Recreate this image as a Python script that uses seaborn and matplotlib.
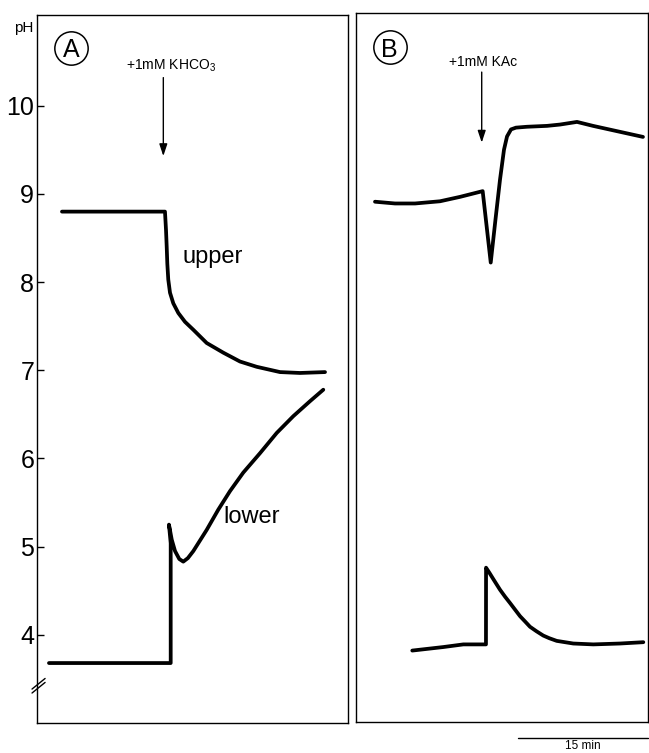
import matplotlib.pyplot as plt
import matplotlib.transforms as mtransforms
import seaborn as sns

# Panel A: +1mM KHCO3 (time in min, pH)
a_upper_t = [2.88, 14.76, 14.88, 14.96, 15.03, 15.14, 15.34, 15.72, 16.30, 17.07,
             18.03, 19.57, 21.49, 23.41, 25.34, 28.03, 30.33, 33.22]
a_upper_ph = [8.80, 8.80, 8.59, 8.40, 8.21, 8.03, 7.88, 7.76, 7.65, 7.55,
              7.46, 7.31, 7.20, 7.10, 7.04, 6.98, 6.97, 6.98]

a_lower_t = [1.38, 15.42, 15.42, 15.22, 15.54, 15.92, 16.41, 16.87, 17.4, 18.03, 18.8,
             19.57, 20.91, 22.26, 23.79, 25.72, 27.65, 29.56, 31.49, 33.02]
a_lower_ph = [3.68, 3.68, 5.04, 5.25, 5.08, 4.95, 4.86, 4.83, 4.87, 4.95, 5.07,
              5.19, 5.42, 5.63, 5.84, 6.06, 6.29, 6.48, 6.65, 6.78]

# Panel B: +1mM KAc
b_upper_t = [2.19, 4.50, 6.81, 9.69, 12.0, 14.61, 15.54, 16.09, 16.61, 17.07,
             17.42, 17.88, 18.45, 19.72, 22.03, 23.53, 25.49, 27.34, 30.10, 33.10]
b_upper_ph = [8.91, 8.89, 8.89, 8.915, 8.965, 9.03, 8.22, 8.71, 9.16, 9.50,
              9.65, 9.73, 9.75, 9.76, 9.77, 9.785, 9.815, 9.77, 9.71, 9.645]

b_lower_t = [6.49, 10.07, 12.38, 14.99, 15.0, 15.4, 15.84, 16.61, 17.2, 17.76, 18.3,
             18.92, 19.5, 20.07, 20.8, 21.6, 22.3, 23.15, 25.06, 27.37, 30.45, 33.14]
b_lower_ph = [3.82, 3.86, 3.89, 3.89, 4.76, 4.70, 4.63, 4.51, 4.43, 4.36, 4.29,
              4.21, 4.15, 4.09, 4.04, 3.99, 3.96, 3.93, 3.90, 3.89, 3.90, 3.915]

ph_ticks = [4, 5, 6, 7, 8, 9, 10]
scale_min = 15

sns.set_theme(style='white')
plt.rcParams['font.family'] = ['Liberation Sans', 'DejaVu Sans']
plt.rcParams['mathtext.fontset'] = 'custom'
plt.rcParams['mathtext.rm'] = 'Liberation Sans'

fig = plt.figure(figsize=(6.49, 7.53), dpi=100)
ax_a = fig.add_axes([37 / 649, 30 / 753, 311 / 649, 708 / 753])
ax_b = fig.add_axes([356 / 649, 31 / 753, 292 / 649, 709 / 753])

line_kw = dict(sort=False, estimator=None, color='black', linewidth=2.7)
sns.lineplot(x=a_upper_t, y=a_upper_ph, ax=ax_a, **line_kw)
sns.lineplot(x=a_lower_t, y=a_lower_ph, ax=ax_a, **line_kw)
sns.lineplot(x=b_upper_t, y=b_upper_ph, ax=ax_b, **line_kw)
sns.lineplot(x=b_lower_t, y=b_lower_ph, ax=ax_b, **line_kw)

ax_a.set_xlim(0, 35.87)
ax_a.set_ylim(3.0, 11.03)
ax_b.set_xlim(0, 33.68)
ax_b.set_ylim(3.01, 11.05)

for ax in (ax_a, ax_b):
    ax.set_xlabel('')
    ax.set_ylabel('')
    ax.set_xticks([])
    for sp in ax.spines.values():
        sp.set_visible(True)
        sp.set_color('black')
        sp.set_linewidth(1.0)

ax_a.set_yticks(ph_ticks)
ax_a.set_yticklabels([str(v) for v in ph_ticks])
ax_a.tick_params(axis='y', direction='in', length=5, width=1, color='black',
                 labelsize=18, pad=2, left=True, labelcolor='black')
ax_b.set_yticks([])

ax_a.text(-0.013, 10.84, 'pH', transform=mtransforms.blended_transform_factory(ax_a.transAxes, ax_a.transData),
          ha='right', va='baseline', fontsize=11, color='black')

# axis break
brk = mtransforms.blended_transform_factory(ax_a.transAxes, ax_a.transData)
for off in (0.0, 0.045):
    ax_a.plot([-0.016, 0.026], [3.34 + off, 3.46 + off], transform=brk, color='black',
              lw=1.0, clip_on=False)

# panel letters
for ax, lab, cx, cy in ((ax_a, 'A', 0.109, 0.954), (ax_b, 'B', 0.115, 0.952)):
    ax.plot([cx], [cy], 'o', transform=ax.transAxes, markersize=24, markerfacecolor='none',
            markeredgecolor='black', markeredgewidth=1.1, clip_on=False)
    ax.text(cx, cy, lab, transform=ax.transAxes, ha='center', va='center_baseline',
            fontsize=18, color='black')

arrow_kw = dict(arrowstyle='-|>,head_length=0.6,head_width=0.2', color='black', lw=1.0,
                mutation_scale=12, shrinkA=0, shrinkB=0)
ax_a.annotate('', xy=(14.57, 9.43), xytext=(14.57, 10.32), arrowprops=arrow_kw)
ax_a.text(15.45, 10.41, '+1mM KHCO$_3$', ha='center', va='baseline', fontsize=10, color='black')
ax_b.annotate('', xy=(14.5, 9.58), xytext=(14.5, 10.38), arrowprops=arrow_kw)
ax_b.text(14.7, 10.45, '+1mM KAc', ha='center', va='baseline', fontsize=10, color='black')

ax_a.text(16.8, 8.22, 'upper', ha='left', va='baseline', fontsize=17, color='black')
ax_a.text(21.49, 5.27, 'lower', ha='left', va='baseline', fontsize=17, color='black')

# time scale bar
sb = mtransforms.blended_transform_factory(ax_b.transData, ax_b.transAxes)
x1 = ax_b.get_xlim()[1]
ax_b.plot([x1 - scale_min, x1], [-0.0226, -0.0226], transform=sb, color='black', lw=1.0,
          clip_on=False)
ax_b.text(x1 - scale_min / 2, -0.0385, f'{scale_min} min', transform=sb, ha='center',
          va='baseline', fontsize=8.5, color='black')

fig.savefig('out.png', dpi=100, facecolor='white')
